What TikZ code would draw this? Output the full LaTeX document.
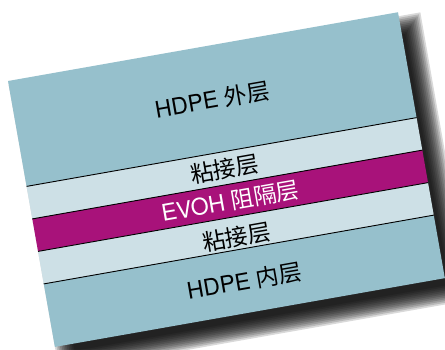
\documentclass[tikz,border=0pt]{standalone}
\usepackage{fontspec}
\setmainfont{TeX Gyre Heros}
\newfontfamily\cjk{Noto Sans CJK SC}
\definecolor{hdpe}{RGB}{150,192,204}
\definecolor{tie}{RGB}{205,224,230}
\definecolor{evoh}{RGB}{168,18,122}
\tikzset{
  sep/.style={black, line width=0.9pt},
  lbl/.style={transform shape, font=\fontsize{23}{23}\selectfont, inner sep=0pt, anchor=center},
}
\begin{document}
\begin{tikzpicture}[x=1pt, y=-1pt]
\useasboundingbox (0,0) rectangle (445,349);
\clip (0,0) rectangle (445,349);
\fill[white] (0,0) rectangle (445,349);
\begin{scope}[shift={(8,81)}, rotate=10]
  % shadow
  \foreach \k in {0,...,11}{
    \fill[black, opacity=0.15] ({0+1.7*\k},{4+1.7*\k}) rectangle ({396+22-1.7*\k},{270+26-1.7*\k});
  }
  % layers
  \fill[hdpe] (0,0) rectangle (396,107);
  \fill[tie] (0,107) rectangle (396,140);
  \fill[evoh] (0,140) rectangle (396,173);
  \fill[tie] (0,173) rectangle (396,206);
  \fill[hdpe] (0,206) rectangle (396,270);
  \coordinate (l1) at (0,107); \coordinate (r1) at (396,107);
  \coordinate (l2) at (0,140); \coordinate (r2) at (396,140);
  \coordinate (l3) at (0,173); \coordinate (r3) at (396,173);
  \coordinate (l4) at (0,206); \coordinate (r4) at (396,206);
  \draw[sep] (l1) -- (r1);
  \draw[sep] (l2) -- (r2);
  \draw[sep] (l3) -- (r3);
  \draw[sep] (l4) -- (r4);
  \node[lbl] (outer) at (198,54) {HDPE {\cjk 外层}};
  \node[lbl] (tie1) at (198,124) {\cjk 粘接层};
  \node[lbl, text=white] (barrier) at (198,157.5) {EVOH {\cjk 阻隔层}};
  \node[lbl] (tie2) at (198,193) {\cjk 粘接层};
  \node[lbl] (inner) at (198,238) {HDPE {\cjk 内层}};
\end{scope}
\end{tikzpicture}
\end{document}
